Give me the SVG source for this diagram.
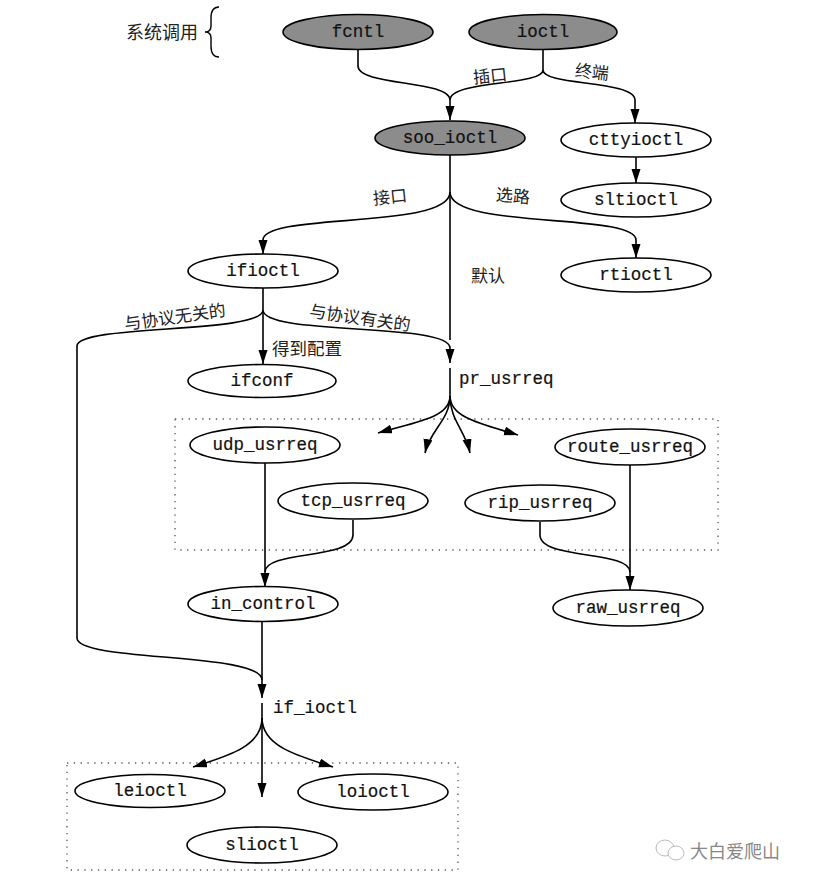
<svg xmlns="http://www.w3.org/2000/svg" width="816" height="886" viewBox="0 0 816 886">
<style>
.n ellipse{fill:#fff;stroke:#000;stroke-width:1.6}
.n.s ellipse{fill:#8c8c8c}
.t{font-family:"Liberation Mono","DejaVu Sans Mono",monospace;font-size:17.5px;fill:#111;stroke:#111;stroke-width:0.2;text-anchor:middle}
.tl{font-family:"Liberation Mono","DejaVu Sans Mono",monospace;font-size:17.5px;fill:#111;stroke:#111;stroke-width:0.2}
.c{font-family:"Noto Sans CJK SC","Noto Sans",sans-serif;font-size:17px;fill:#222}
#edges path{fill:none;stroke:#000;stroke-width:1.6}
.box{fill:none;stroke:#555;stroke-width:1.3;stroke-dasharray:1.3 5.5}
</style>
<defs>
<marker id="ah" markerUnits="userSpaceOnUse" markerWidth="15" markerHeight="10" refX="14" refY="4.5" orient="auto">
<path d="M0,0 L14,4.5 L0,9 z" fill="#000"/>
</marker>
</defs>
<rect width="816" height="886" fill="#fff"/>

<g id="brace">
<text class="c" x="126" y="39" style="font-size:18px">系统调用</text>
<path d="M219,7 Q211,7 211,18 L211,26 Q211,32 205,32 Q211,32 211,38 L211,46 Q211,57 219,57" fill="none" stroke="#000" stroke-width="1.4"/>
</g>

<rect class="box" x="175" y="419" width="543" height="131"/>
<rect class="box" x="67" y="763" width="391" height="107"/>

<g id="edges">
<path d="M358,50 L358,66 C358,86 450,80 450,100 L450,120" marker-end="url(#ah)"/>
<path d="M543,50 L543,70 C543,86 450,80 450,100"/>
<path d="M543,70 C543,86 635,80 635,100 L635,123" marker-end="url(#ah)"/>
<path d="M636,157 L636,183" marker-end="url(#ah)"/>
<path d="M450,155 L450,340"/>
<path d="M450,192 C450,230 263,212 263,240 L263,254" marker-end="url(#ah)"/>
<path d="M450,192 C450,230 636,212 636,240 L636,258" marker-end="url(#ah)"/>
<path d="M263,288 L263,364" marker-end="url(#ah)"/>
<path d="M263,310 C263,336 450,322 450,348 L450,363" marker-end="url(#ah)"/>
<path d="M263,310 C263,334 77,324 77,346 L77,638 C77,662 262,652 262,680 L262,698" marker-end="url(#ah)"/>
<path d="M450,368 L450,398"/>
<path d="M450,396 C450,418 415,422 378,433" marker-end="url(#ah)"/>
<path d="M450,396 C450,420 430,430 425,453" marker-end="url(#ah)"/>
<path d="M450,396 C450,420 465,430 470,453" marker-end="url(#ah)"/>
<path d="M450,396 C450,418 482,424 518,435" marker-end="url(#ah)"/>
<path d="M265,463 L265,587" marker-end="url(#ah)"/>
<path d="M353,520 L353,535 C353,560 265,550 265,572"/>
<path d="M630,465 L630,590" marker-end="url(#ah)"/>
<path d="M540,522 L540,535 C540,560 630,550 630,572"/>
<path d="M262,622 L262,680"/>
<path d="M262,703 L262,720"/>
<path d="M262,718 C262,745 232,755 193,767" marker-end="url(#ah)"/>
<path d="M262,718 L262,797" marker-end="url(#ah)"/>
<path d="M262,718 C262,745 294,755 333,767" marker-end="url(#ah)"/>
</g>

<g id="labels">
<text class="c" x="490" y="82" transform="rotate(-6 490 76)" text-anchor="middle">插口</text>
<text class="c" x="592" y="78" transform="rotate(6 592 72)" text-anchor="middle">终端</text>
<text class="c" x="390" y="203" transform="rotate(-6 390 197)" text-anchor="middle">接口</text>
<text class="c" x="513" y="202" transform="rotate(5 513 196)" text-anchor="middle">选路</text>
<text class="c" x="488" y="282" text-anchor="middle">默认</text>
<text class="c" x="175" y="323" transform="rotate(-8 175 317)" text-anchor="middle">与协议无关的</text>
<text class="c" x="360" y="324" transform="rotate(8 360 318)" text-anchor="middle">与协议有关的</text>
<text class="c" x="272" y="355" style="font-size:17.5px">得到配置</text>
</g>

<g id="fcntl" class="n s"><ellipse cx="358" cy="32" rx="75" ry="17.5"/><text class="t" x="358" y="37">fcntl</text></g>
<g id="ioctl" class="n s"><ellipse cx="543" cy="32" rx="74" ry="17.5"/><text class="t" x="543" y="37">ioctl</text></g>
<g id="soo_ioctl" class="n s"><ellipse cx="450" cy="138" rx="75" ry="17"/><text class="t" x="450" y="143">soo_ioctl</text></g>
<g id="cttyioctl" class="n"><ellipse cx="636" cy="140" rx="75" ry="17"/><text class="t" x="636" y="145">cttyioctl</text></g>
<g id="sltioctl" class="n"><ellipse cx="636" cy="200" rx="75" ry="17"/><text class="t" x="636" y="205">sltioctl</text></g>
<g id="ifioctl" class="n"><ellipse cx="263" cy="271" rx="75" ry="17"/><text class="t" x="263" y="276">ifioctl</text></g>
<g id="rtioctl" class="n"><ellipse cx="636" cy="275" rx="75" ry="17"/><text class="t" x="636" y="280">rtioctl</text></g>
<g id="ifconf" class="n"><ellipse cx="262" cy="381" rx="74" ry="16.5"/><text class="t" x="262" y="386">ifconf</text></g>
<g id="pr_usrreq"><text class="tl" x="459" y="384">pr_usrreq</text></g>
<g id="udp_usrreq" class="n"><ellipse cx="265" cy="445" rx="75" ry="18"/><text class="t" x="265" y="450">udp_usrreq</text></g>
<g id="route_usrreq" class="n"><ellipse cx="630" cy="447" rx="75" ry="18"/><text class="t" x="630" y="452">route_usrreq</text></g>
<g id="tcp_usrreq" class="n"><ellipse cx="353" cy="501" rx="75" ry="18"/><text class="t" x="353" y="506">tcp_usrreq</text></g>
<g id="rip_usrreq" class="n"><ellipse cx="540" cy="503" rx="75" ry="18"/><text class="t" x="540" y="508">rip_usrreq</text></g>
<g id="in_control" class="n"><ellipse cx="263" cy="604" rx="75" ry="17.5"/><text class="t" x="263" y="609">in_control</text></g>
<g id="raw_usrreq" class="n"><ellipse cx="628" cy="608" rx="75" ry="18"/><text class="t" x="628" y="613">raw_usrreq</text></g>
<g id="if_ioctl"><text class="tl" x="273" y="713">if_ioctl</text></g>
<g id="leioctl" class="n"><ellipse cx="150" cy="791" rx="75" ry="16.5"/><text class="t" x="150" y="796">leioctl</text></g>
<g id="loioctl" class="n"><ellipse cx="373" cy="792" rx="75" ry="18"/><text class="t" x="373" y="797">loioctl</text></g>
<g id="slioctl" class="n"><ellipse cx="262" cy="845" rx="75" ry="18"/><text class="t" x="262" y="850">slioctl</text></g>

<g id="watermark">
<ellipse cx="665" cy="848" rx="9" ry="8" fill="none" stroke="#bbb" stroke-width="1"/>
<ellipse cx="676" cy="853" rx="8" ry="7" fill="#fff" stroke="#bbb" stroke-width="1"/>
<text x="690" y="858" style="font-family:'Noto Sans CJK SC',sans-serif;font-size:18px;fill:#888">大白爱爬山</text>
</g>
</svg>
